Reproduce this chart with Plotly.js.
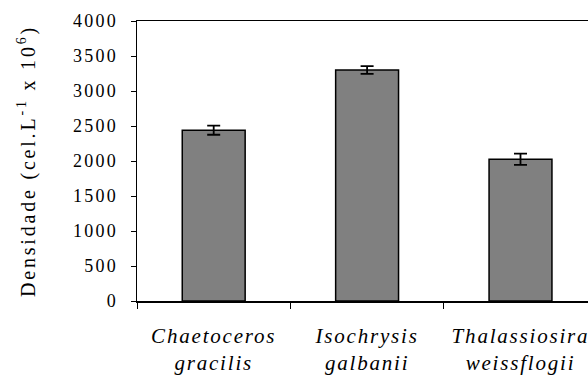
<!DOCTYPE html>
<html>
<head>
<meta charset="utf-8">
<script src="https://cdn.plot.ly/plotly-3.0.1.min.js"></script>
<style>
html,body{margin:0;padding:0;background:#fff;}
#chart{width:588px;height:378px;}
#chart .xtick text{letter-spacing:1.8px;}
#chart .ytick text{letter-spacing:2.2px;}
#chart .ytitle{letter-spacing:2.8px;}
</style>
</head>
<body>
<div id="chart"></div>
<script>
const categories = ["<i>Chaetoceros</i><br><i>gracilis</i>", "<i>Isochrysis</i><br><i>galbanii</i>", "<i>Thalassiosira</i><br><i>weissflogii</i>"];
const densidade = [2440, 3300, 2025];
const erro = [65, 55, 80];
const yTicks = [0, 500, 1000, 1500, 2000, 2500, 3000, 3500, 4000];

const FONT = "Liberation Serif";

const trace = {
  type: "bar",
  x: categories,
  y: densidade,
  width: 0.41,
  marker: {color: "#808080", line: {color: "#000", width: 1.5}},
  error_y: {type: "data", array: erro, visible: true, color: "#000", thickness: 1.8, width: 6.5},
  hoverinfo: "none"
};

const layout = {
  width: 588, height: 378,
  margin: {l: 137, r: 0, t: 21, b: 77},
  paper_bgcolor: "#fff", plot_bgcolor: "#fff",
  showlegend: false,
  font: {family: FONT, color: "#000", size: 17},
  xaxis: {
    type: "category",
    range: [-0.5, 2.44],
    tickson: "boundaries",
    ticks: "outside", ticklen: 6, tickcolor: "#000", tickwidth: 1,
    showline: true, linecolor: "#000", linewidth: 1.5, mirror: true,
    showgrid: false, zeroline: false,
    tickfont: {size: 21, family: FONT},
    ticklabelstandoff: 15,
    fixedrange: true
  },
  yaxis: {
    range: [0, 4000],
    tickvals: yTicks,
    ticktext: yTicks.map(String),
    ticks: "outside", ticklen: 5, tickcolor: "#000", tickwidth: 1,
    showline: true, linecolor: "#000", linewidth: 1.5,
    showgrid: false, zeroline: false,
    tickfont: {size: 18, family: FONT},
    ticklabelstandoff: 9,
    title: {text: "Densidade (cel.L<sup>-1</sup> x 10<sup>6</sup>)", font: {size: 20, family: FONT}, standoff: 41},
    fixedrange: true
  }
};

Plotly.newPlot("chart", [trace], layout, {displayModeBar: false, staticPlot: true});
</script>
</body>
</html>
